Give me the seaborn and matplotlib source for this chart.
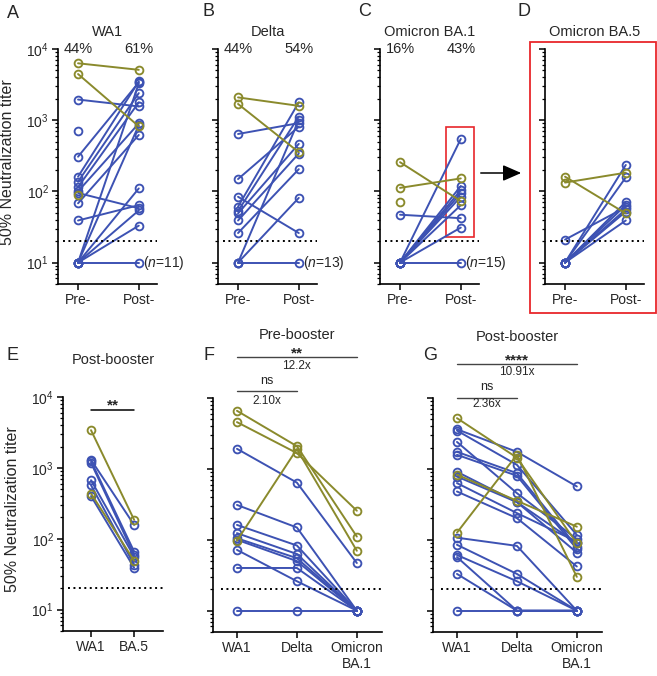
import numpy as np
import pandas as pd
import matplotlib
matplotlib.use('Agg')
import matplotlib.pyplot as plt
import seaborn as sns
from matplotlib.patches import Rectangle, FancyArrowPatch
from matplotlib.ticker import LogLocator, FixedLocator, NullFormatter

BLUE = '#3d52b3'
OLIVE = '#8a8a2c'
nan = np.nan

# ---- A: WA1 pre/post
A_pre = [6300, 4450, 1950, 710, 307, 161, 137, 115, 100, 89, 95, 68, 39, 10, 10, 10, 10, 10, 10]
A_post = [5100, 820, 1560, nan, 3400, 3500, 2400, 1780, 900, nan, 58, 620, 64, 3300, 850, 110, 54, 33, 10]
A_grp = ['o', 'o', 'b', 'b', 'b', 'b', 'b', 'b', 'b', 'o', 'b', 'b', 'b', 'b', 'b', 'b', 'b', 'b', 'b']

# ---- B: Delta pre/post
B_pre = [2090, 1690, 640, 149, 84, 61, 53, 49, 39, 26, 10, 10, 10]
B_post = [1590, 355, 910, 810, 26, 1780, 1120, 465, 340, 205, 81, 10, 1000]
B_grp = ['o', 'o', 'b', 'b', 'b', 'b', 'b', 'b', 'b', 'b', 'b', 'b', 'b']

# ---- C: Omicron BA.1 pre/post
C_pre = [257, 112, 70, 47, 10, 10, 10, 10, 10, 10, 10, 10]
C_post = [73, 152, nan, 42, 545, 119, 104, 94, 84, 64, 31, 10]
C_grp = ['o', 'o', 'o', 'b', 'b', 'b', 'b', 'b', 'b', 'b', 'b', 'b']

# ---- D: Omicron BA.5 pre/post
D_pre = [161, 133, 21, 10, 10, 10, 10, 10, 10, 10]
D_post = [49, 183, 60, 235, 157, 71, 64, 56, 52, 39]
D_grp = ['o', 'o', 'b', 'b', 'b', 'b', 'b', 'b', 'b', 'b']

# ---- E: post-booster WA1 vs BA.5
E_wa1 = [3400, 435, 1300, 1250, 1180, 670, 570, 400]
E_ba5 = [185, 49, 157, 66, 59, 56, 43, 39]
E_grp = ['o', 'o', 'b', 'b', 'b', 'b', 'b', 'b']

# ---- F: pre-booster WA1 / Delta / BA.1
F_wa1 = [6600, 4570, 97, 1920, 310, 162, 124, 105, 100, 72, 40, 10]
F_delta = [2090, 1670, 1900, 640, 149, 83, 63, 55, 50, 26, 40, 10]
F_ba1 = [111, 257, 70, 47, 10, 10, 10, 10, 10, 10, 10, 10]
F_grp = ['o', 'o', 'o', 'b', 'b', 'b', 'b', 'b', 'b', 'b', 'b', 'b']

# ---- G: post-booster WA1 / Delta / BA.1
G_wa1 = [5200, 830, 126, 3620, 3470, 2400, 1740, 1580, 910, 780, 630, 480, 107, 85, 61, 57, 33, 10]
G_delta = [1440, 355, 1580, 1740, 1140, 455, 870, 800, 340, 340, 238, 202, 82, 33, 26, 10, 10, 10]
G_ba1 = [89, 153, 30, 565, 117, 102, 80, 74, 66, 89, 94, 42, 10, 10, 10, 10, 10, 10]
G_grp = ['o', 'o', 'o', 'b', 'b', 'b', 'b', 'b', 'b', 'b', 'b', 'b', 'b', 'b', 'b', 'b', 'b', 'b']

LOD = 20


def long_df(cols, groups):
    rows = []
    for i, g in enumerate(groups):
        for x, col in enumerate(cols):
            v = col[i]
            if not np.isnan(v):
                rows.append(dict(id=i, x=x, titer=v, grp=g))
    return pd.DataFrame(rows)


sns.set_style('ticks')
plt.rcParams['font.family'] = ['Liberation Sans', 'DejaVu Sans']
plt.rcParams['mathtext.fontset'] = 'custom'
plt.rcParams['mathtext.rm'] = 'Liberation Sans'
plt.rcParams['mathtext.it'] = 'Liberation Sans:italic'

fig = plt.figure(figsize=(6.57, 6.76), dpi=100)
W, H = 657, 676


def rect(left, top, width, bottom):
    return [left / W, 1 - bottom / H, width / W, (bottom - top) / H]


def panel(r, xlim, xticklabels, cols, grp, show_ylabels):
    ax = fig.add_axes(r)
    ax.set_yscale('log')
    df = long_df(cols, grp)
    for g, c in [('b', BLUE), ('o', OLIVE)]:
        sns.lineplot(data=df[df.grp == g], x='x', y='titer', units='id', estimator=None, color=c,
                     lw=1.4, marker='o', markersize=5.6, markerfacecolor='none',
                     markeredgecolor=c, markeredgewidth=1.35, ax=ax, legend=False, sort=False)
    ax.set_xlabel('')
    ax.set_ylabel('')
    # axis styling after plotting
    ax.set_yscale('log')
    ax.set_ylim(5, 1e4)
    ax.set_xlim(*xlim)
    ax.xaxis.set_major_locator(FixedLocator(range(len(xticklabels))))
    ax.set_xticklabels(xticklabels, fontsize=10)
    ax.yaxis.set_major_locator(FixedLocator([10, 100, 1000, 10000]))
    ax.yaxis.set_minor_locator(LogLocator(base=10, subs=np.arange(2, 10), numticks=20))
    ax.yaxis.set_minor_formatter(NullFormatter())
    if show_ylabels:
        ax.set_yticklabels(['$\\mathdefault{10^{%d}}$' % k for k in range(1, 5)])
    else:
        ax.set_yticklabels([])
    ax.tick_params(axis='both', which='major', length=4.5, width=1.1, labelsize=10, pad=2,
                   color='black', direction='out')
    ax.tick_params(axis='y', which='minor', length=2.4, width=0.9, color='black', direction='out', left=True)
    for s in ['left', 'bottom']:
        ax.spines[s].set_linewidth(1.2)
        ax.spines[s].set_color('black')
    sns.despine(ax=ax)
    ax.hlines(LOD, xlim[0] + 0.05 * (xlim[1] - xlim[0]), xlim[1], colors='black',
              linestyles=(0, (1, 1.8)), lw=1.4)
    return ax


top_panels = [
    ('A', 58, A_pre, A_post, A_grp, 'WA1', ('44%', '61%'), '11'),
    ('B', 218, B_pre, B_post, B_grp, 'Delta', ('44%', '54%'), '13'),
    ('C', 380, C_pre, C_post, C_grp, 'Omicron BA.1', ('16%', '43%'), '15'),
    ('D', 545, D_pre, D_post, D_grp, 'Omicron BA.5', None, None),
]

axes_top = {}
for letter, left, pre, post, grp, title, pcts, n in top_panels:
    ax = panel(rect(left, 49, 99, 284), (-0.33, 1.30), ['Pre-', 'Post-'], [pre, post], grp, letter == 'A')
    ax.text(0.5, 1.072, title, transform=ax.transAxes, ha='center', va='center', fontsize=10.5)
    if pcts:
        ax.text(0, 1.0, pcts[0], transform=ax.get_xaxis_transform(), ha='center', va='center', fontsize=10.5)
        ax.text(1, 1.0, pcts[1], transform=ax.get_xaxis_transform(), ha='center', va='center', fontsize=10.5)
    if n:
        ax.text(1.07, 10, '($\\mathit{n}$=%s)' % n, ha='left', va='center', fontsize=10, clip_on=False)
    axes_top[letter] = ax

axes_top['A'].set_ylabel('50% Neutralization titer', fontsize=11.5)
axes_top['A'].yaxis.set_label_coords(-0.43, 0.52)

# red box in C and arrow to D
axC = axes_top['C']
axC.add_patch(Rectangle((0.754, 23), 0.459, 800 - 23, fill=False, edgecolor='#e8262b', lw=1.2, clip_on=False))
fig.add_artist(Rectangle((530 / W, 1 - 313 / H), 126 / W, 271 / H, transform=fig.transFigure,
                         fill=False, edgecolor='#e8262b', lw=1.3))
fig.add_artist(FancyArrowPatch((478 / W, 1 - 173 / H), (524 / W, 1 - 173 / H),
                               transform=fig.transFigure,
                               arrowstyle='-|>,head_length=0.8,head_width=0.35',
                               mutation_scale=14, color='black', lw=1.1))

# ---- E
axE = panel(rect(63, 397, 100, 631), (-0.65, 1.67), ['WA1', 'BA.5'], [E_wa1, E_ba5], E_grp, True)
axE.set_ylabel('50% Neutralization titer', fontsize=11.5)
axE.yaxis.set_label_coords(-0.43, 0.52)
axE.text(0.5, 1.16, 'Post-booster', transform=axE.transAxes, ha='center', va='center', fontsize=10.5)
axE.plot([0, 1], [0.945, 0.945], transform=axE.get_xaxis_transform(), color='black', lw=1.1, clip_on=False)
axE.text(0.5, 0.945, '**', transform=axE.get_xaxis_transform(), ha='center', va='baseline',
         fontsize=11, fontweight='bold')

# ---- F and G
lower = [
    ('F', 213, [F_wa1, F_delta, F_ba1], F_grp, 'Pre-booster', '**', '12.2x', '2.10x',
     (1.268, 1.175, 1.137, 1.073, 1.030, 0.987)),
    ('G', 433, [G_wa1, G_delta, G_ba1], G_grp, 'Post-booster', '****', '10.91x', '2.36x',
     (1.262, 1.145, 1.111, 1.047, 1.000, 0.974)),
]
for letter, left, cols, grp, title, star, fold1, fold2, ys in lower:
    ax = panel(rect(left, 398, 169, 632), (-0.4, 2.42), ['WA1', 'Delta', 'Omicron\nBA.1'], cols, grp, False)
    tr = ax.get_xaxis_transform()
    ax.text(1, ys[0], title, transform=tr, ha='center', va='center', fontsize=10.5)
    ax.plot([0, 2], [ys[1], ys[1]], transform=tr, color='#444444', lw=1.0, clip_on=False)
    ax.text(1, ys[1] - 0.002, star, transform=tr, ha='center', va='baseline', fontsize=11, fontweight='bold')
    ax.text(1, ys[2], fold1, transform=tr, ha='center', va='center', fontsize=8.5)
    ax.plot([0, 1], [ys[4], ys[4]], transform=tr, color='#444444', lw=1.0, clip_on=False)
    ax.text(0.5, ys[3], 'ns', transform=tr, ha='center', va='center', fontsize=9)
    ax.text(0.5, ys[5], fold2, transform=tr, ha='center', va='center', fontsize=8.5)

# panel letters
for lab, x, y in [('A', 13, 13), ('B', 208, 12), ('C', 365, 12), ('D', 524, 12),
                  ('E', 13, 355), ('F', 209, 355), ('G', 430, 355)]:
    fig.text(x / W, 1 - y / H, lab, ha='center', va='center', fontsize=13)

fig.savefig('out.png', dpi=100)
